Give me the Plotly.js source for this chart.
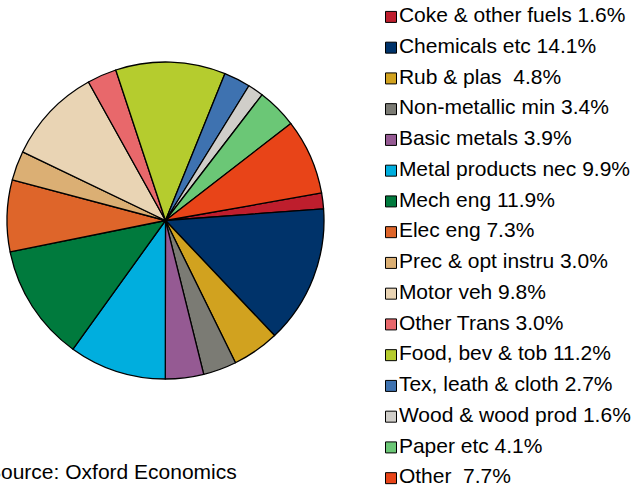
<!DOCTYPE html>
<html>
<head>
<meta charset="utf-8">
<script src="https://cdn.plot.ly/plotly-3.0.1.min.js"></script>
<style>html,body{margin:0;padding:0;background:#fff;}#chart{width:638px;height:492px;}</style>
</head>
<body>
<div id="chart"></div>
<script>
var sectors = ["Coke & other fuels", "Chemicals etc", "Rub & plas\u00A0", "Non-metallic min", "Basic metals",
  "Metal products nec", "Mech eng", "Elec eng", "Prec & opt instru", "Motor veh", "Other Trans",
  "Food, bev & tob", "Tex, leath & cloth", "Wood & wood prod", "Paper etc", "Other\u00A0"];
var shares = [1.6, 14.1, 4.8, 3.4, 3.9, 9.9, 11.9, 7.3, 3.0, 9.8, 3.0, 11.2, 2.7, 1.6, 4.1, 7.7];
var colors = ["#BE1E2D", "#00336A", "#D1A21F", "#7B7B74", "#955A93", "#00AEDE", "#007A3D", "#DE652A",
  "#DBAF74", "#E9D4B4", "#E8686B", "#B5CC2E", "#3E72B0", "#D0CEC9", "#6BC776", "#E84418"];
var sourceText = "Source: Oxford Economics";

var labels = sectors.map(function (s, i) { return s + " " + shares[i].toFixed(1) + "%"; });

var W = 638, H = 492;
var cx = 165.5, cy = 220.5, r = 158.5;
var FONT = "Liberation Sans, Arial, sans-serif";

var pie = {
  type: "pie",
  labels: labels,
  values: shares,
  sort: false,
  direction: "clockwise",
  rotation: 80,
  textinfo: "none",
  hoverinfo: "none",
  showlegend: false,
  marker: { colors: colors, line: { color: "#000", width: 1.3 } },
  domain: { x: [(cx - r) / W, (cx + r) / W], y: [(H - cy - r) / H, (H - cy + r) / H] }
};

// legend drawn as a key: one square marker + label per sector
var key = {
  type: "scatter",
  mode: "markers+text",
  x: labels.map(function () { return 0; }),
  y: labels,
  text: labels,
  textposition: "middle right",
  textfont: { family: FONT, size: 21, color: "#000" },
  marker: { symbol: "square", size: 11, color: colors, line: { color: "#000", width: 1 } },
  cliponaxis: false,
  hoverinfo: "none",
  showlegend: false,
  xaxis: "x", yaxis: "y"
};

var layout = {
  width: W, height: H,
  margin: { l: 0, r: 0, t: 0, b: 0 },
  paper_bgcolor: "#fff",
  plot_bgcolor: "rgba(0,0,0,0)",
  showlegend: false,
  xaxis: { domain: [391 / W, 1], range: [0, 1], visible: false, fixedrange: true },
  yaxis: { domain: [0, 1], type: "category", categoryorder: "array", categoryarray: labels,
           range: [15.45, -0.55], visible: false, fixedrange: true },
  annotations: [{
    text: sourceText, xref: "paper", yref: "paper", x: -15 / W, y: (H - 471) / H,
    xanchor: "left", yanchor: "middle",
    showarrow: false, font: { family: FONT, size: 21, color: "#000" }
  }]
};

Plotly.newPlot("chart", [pie, key], layout, { staticPlot: true, displayModeBar: false });
</script>
</body>
</html>
